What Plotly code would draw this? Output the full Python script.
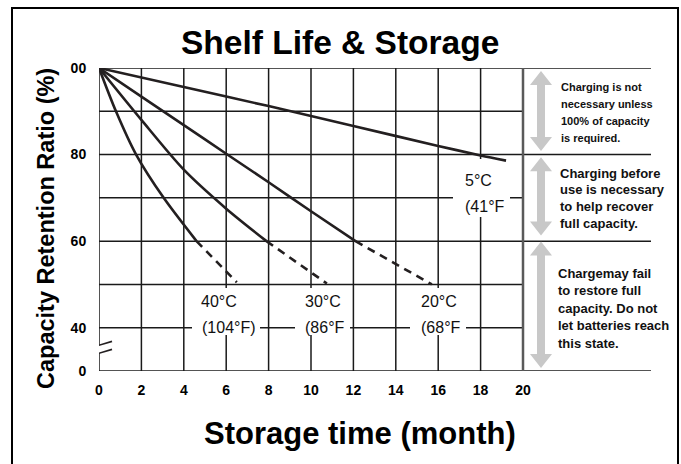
import plotly.graph_objects as go

# ---------------- data ----------------
x_ticks = [0, 2, 4, 6, 8, 10, 12, 14, 16, 18, 20]
y_tickvals = [100, 80, 60, 40, 30]
y_ticktext = ["00", "80", "60", "40", "0"]

x_5c = [0, 4, 8, 12, 16, 18, 19.2]
y_5c = [100, 95.6, 91.2, 86.6, 82.0, 79.8, 78.6]

x_20c = [0, 2, 4, 6, 8, 10, 12.1]
y_20c = [100, 93.4, 86.8, 80.2, 73.6, 66.9, 60]
x_20c_d = [12.1, 15.7]
y_20c_d = [60, 50]

x_30c = [0, 2, 4, 6, 7.9]
y_30c = [100, 88, 76.5, 67.5, 60]
x_30c_d = [7.9, 10.75]
y_30c_d = [60, 50.2]

x_40c = [0, 0.8, 1.75, 3.05, 4.6]
y_40c = [100, 90, 80, 70, 60]
x_40c_d = [4.6, 6.5]
y_40c_d = [60, 50.5]

zone_bounds = [(99.3, 80.8), (79.4, 61.3), (59.9, 30.7)]
zone1_lines = ["Charging is not", "necessary unless", "100% of capacity", "is required."]
zone2_lines = ["Charging before", "use is necessary", "to help recover", "full capacity."]
zone3_lines = ["Chargemay fail", "to restore full", "capacity. Do not", "let batteries reach", "this state."]

# ---------------- geometry helpers ----------------
W_FIG, H_FIG = 681, 464
L, R, T, B = 99, 30, 68, 93
PW, PH = W_FIG - L - R, H_FIG - T - B
XS = 21.2            # px per month
YS = PH / 70.0       # px per percent
XMAX = PW / XS


def dx(px):
    return (px - L) / XS


def dy(py):
    return 100 - (py - T) / YS


def xp(px):
    return (px - L) / PW


def yp(py):
    return (T + PH - py) / PH


FONT = "Liberation Sans, Arial, Helvetica, sans-serif"
LINE = "#231f20"

fig = go.Figure()

# curves
for xs, ys in [(x_5c, y_5c), (x_20c, y_20c), (x_30c, y_30c), (x_40c, y_40c)]:
    fig.add_trace(go.Scatter(x=xs, y=ys, mode="lines",
                             line=dict(color=LINE, width=2.6, shape="spline", smoothing=0.8),
                             hoverinfo="skip", showlegend=False))
for xs, ys in [(x_20c_d, y_20c_d), (x_30c_d, y_30c_d), (x_40c_d, y_40c_d)]:
    fig.add_trace(go.Scatter(x=xs, y=ys, mode="lines",
                             line=dict(color=LINE, width=2.6, dash="8px,6px"),
                             hoverinfo="skip", showlegend=False))

shapes = []
GRID = dict(color="#1a1a1a", width=1.5)

for xv in x_ticks[:-1]:
    shapes.append(dict(type="line", xref="x", yref="y", x0=xv, x1=xv, y0=30, y1=100,
                       line=GRID, layer="below"))
for yv in [90, 70, 50, 40]:
    shapes.append(dict(type="line", xref="x", yref="y", x0=0, x1=20, y0=yv, y1=yv,
                       line=GRID, layer="below"))
for yv in [100, 80, 60, 30]:
    shapes.append(dict(type="line", xref="x", yref="y", x0=0, x1=XMAX, y0=yv, y1=yv,
                       line=GRID, layer="below"))
shapes.append(dict(type="line", xref="x", yref="y", x0=20, x1=20, y0=30, y1=100,
                   line=dict(color="#5a5a5a", width=2.5), layer="below"))

# white boxes behind temperature labels
for (a, b, c, d) in [(192, 260, 288, 335), (295, 350, 288, 335), (410, 466, 288, 335),
                     (453, 510, 159, 217)]:
    shapes.append(dict(type="rect", xref="x", yref="y", x0=dx(a), x1=dx(b), y0=dy(c), y1=dy(d),
                       fillcolor="white", line=dict(width=0), layer="below"))

# axis break marks
sl = 1.45
xa, xb = dx(88), dx(112)
y1a, y2a = dy(348.5), dy(356.5)
shapes.append(dict(type="path", xref="x", yref="y",
                   path=f"M{-0.35},{y2a + sl*(-0.35 - xa)} L{0.35},{y2a + sl*(0.35 - xa)} "
                        f"L{0.35},{y1a + sl*(0.35 - xa)} L{-0.35},{y1a + sl*(-0.35 - xa)} Z",
                   fillcolor="white", line=dict(width=0), layer="below"))
for ya in (y1a, y2a):
    shapes.append(dict(type="line", xref="x", yref="y", x0=xa, x1=xb,
                       y0=ya, y1=ya + sl*(xb - xa), line=dict(color=LINE, width=1.6),
                       layer="below"))

# gray double-headed arrows
xc = dx(541)
hw, sw, hl = 11 / XS, 4 / XS, 14 / YS
for top, bot in zone_bounds:
    p = (f"M{xc},{top} L{xc+hw},{top-hl} L{xc+sw},{top-hl} L{xc+sw},{bot+hl} "
         f"L{xc+hw},{bot+hl} L{xc},{bot} L{xc-hw},{bot+hl} L{xc-sw},{bot+hl} "
         f"L{xc-sw},{top-hl} L{xc-hw},{top-hl} Z")
    shapes.append(dict(type="path", xref="x", yref="y", path=p, fillcolor="#c8c8c8",
                       line=dict(width=0), layer="below"))

# outer frame
shapes.append(dict(type="rect", xref="paper", yref="paper", x0=xp(12), x1=xp(678),
                   y0=yp(475), y1=yp(8), line=dict(color="black", width=2),
                   fillcolor="rgba(0,0,0,0)", layer="above"))

annotations = []
for txt, lx, cy in [("40°C", 199, 301), ("(104°F)", 200, 327),
                    ("30°C", 303, 301), ("(86°F", 303, 327),
                    ("20°C", 419, 301), ("(68°F", 419, 327),
                    ("5°C", 463, 180), ("(41°F", 463, 206)]:
    annotations.append(dict(x=dx(lx), y=dy(cy), xref="x", yref="y", text=txt, showarrow=False,
                            xanchor="left", yanchor="middle",
                            font=dict(family=FONT, size=16, color="#111")))


def add_block(lines, left, first_cy, step, size):
    for i, s in enumerate(lines):
        annotations.append(dict(x=xp(left), y=yp(first_cy + i * step), xref="paper", yref="paper",
                                text=s, showarrow=False, xanchor="left", yanchor="middle",
                                font=dict(family=FONT, size=size, color="#111", weight="bold")))


add_block(zone1_lines, 559, 87, 17, 11)
add_block(zone2_lines, 558, 173, 16.8, 13)
add_block(zone3_lines, 556, 273, 17.5, 13)

annotations.append(dict(x=xp(340), y=yp(42), xref="paper", yref="paper",
                        text="Shelf Life & Storage", showarrow=False,
                        xanchor="center", yanchor="middle",
                        font=dict(family=FONT, size=33.5, color="black", weight="bold")))
annotations.append(dict(x=xp(360), y=yp(433), xref="paper", yref="paper",
                        text="Storage time (month)", showarrow=False,
                        xanchor="center", yanchor="middle",
                        font=dict(family=FONT, size=31, color="black", weight="bold")))
annotations.append(dict(x=xp(46), y=yp(229), xref="paper", yref="paper",
                        text="Capacity Retention Ratio (%)", showarrow=False, textangle=-90,
                        xanchor="center", yanchor="middle",
                        font=dict(family=FONT, size=23.5, color="black", weight="bold")))

fig.update_layout(
    width=W_FIG, height=H_FIG,
    margin=dict(l=L, r=R, t=T, b=B, pad=0),
    paper_bgcolor="white", plot_bgcolor="white",
    shapes=shapes, annotations=annotations, showlegend=False,
    xaxis=dict(range=[0, XMAX], tickvals=x_ticks, ticktext=[str(v) for v in x_ticks],
               showgrid=False, zeroline=False, showline=False,
               ticks="outside", ticklen=6, tickcolor="rgba(0,0,0,0)",
               tickfont=dict(family=FONT, size=14, color="black", weight="bold"),
               fixedrange=True),
    yaxis=dict(range=[30, 100], tickvals=y_tickvals, ticktext=y_ticktext,
               showgrid=False, zeroline=False, showline=False,
               ticks="outside", ticklen=9, tickcolor="rgba(0,0,0,0)",
               tickfont=dict(family=FONT, size=14, color="black", weight="bold"),
               fixedrange=True),
)

fig.write_html("out.html", post_script="document.body.style.margin='0px';",
               config={"displayModeBar": False})
